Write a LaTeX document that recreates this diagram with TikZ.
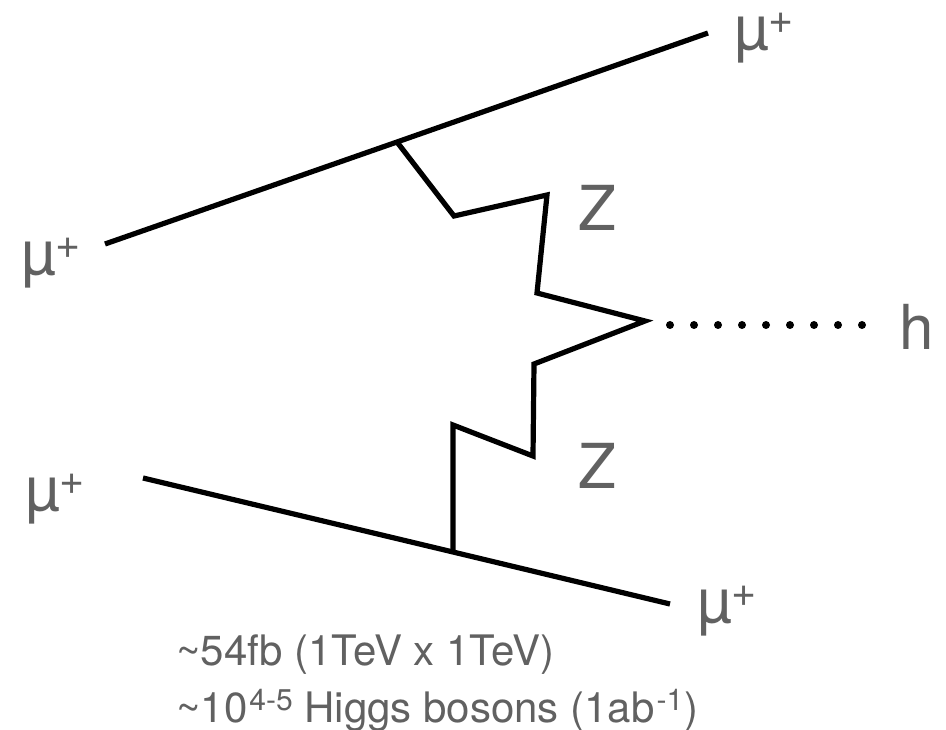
\documentclass[tikz,border=0pt]{standalone}
\usepackage{fontspec}
\setmainfont{TeX Gyre Heros}
\usetikzlibrary{positioning, calc}
\begin{document}
\begin{tikzpicture}[x=1pt,y=-1pt,
    line/.style={line width=5.2pt, black, line join=miter},
    higgs/.style={line width=8pt, black, line cap=round, dash pattern=on 0pt off 24pt},
    lbl/.style={text=black!62, font=\fontsize{62}{62}\selectfont, inner sep=0pt, anchor=base},
    note/.style={text=black!62, font=\fontsize{42}{42}\selectfont, inner sep=0pt, anchor=base west},
]
\useasboundingbox (0,0) rectangle (946,730);
\fill[white] (0,0) rectangle (946,730);
% Coordinates
\coordinate (upin) at (105,244);
\coordinate (upv) at (397,142);
\coordinate (upout) at (708,33);
\coordinate (lowin) at (143,478);
\coordinate (lowv) at (453,552);
\coordinate (lowout) at (670,604);
\coordinate (hv) at (645,321);
\coordinate (hstart) at (670,325);
\coordinate (hend) at (863,325);
% Muon lines
\draw[line] (upin) -- (upv) -- (upout);
\draw[line] (lowin) -- (lowv) -- (lowout);
% Z bosons
\draw[line] (upv) -- (454,216) -- (547,195) -- (537,293) -- (hv) -- (534,364) -- (533,456) -- (453,425) -- (lowv);
% Higgs
\draw[higgs] (hstart) -- (hend);
% Labels
\node[lbl] (mua) at (51,275) {µ\raisebox{16pt}{\fontsize{43}{43}\selectfont +}};
\node[lbl] (mub) at (55,510) {µ\raisebox{16pt}{\fontsize{43}{43}\selectfont +}};
\node[lbl] (muc) at (764,50) {µ\raisebox{16pt}{\fontsize{43}{43}\selectfont +}};
\node[lbl] (mud) at (727,622) {µ\raisebox{16pt}{\fontsize{43}{43}\selectfont +}};
\node[lbl] (za) at (597,231) {Z};
\node[lbl] (zb) at (597,488) {Z};
\node[lbl] (hl) at (917,349) {h};
\node[note] (xsec) at (176,665) {\char"007E 54fb (1TeV x 1TeV)};
\node[note] (nev) at (176,722) {\char"007E 10\kern2pt\raisebox{12pt}{\fontsize{30}{30}\selectfont 4-5} Higgs bosons (1ab\kern2pt\raisebox{12pt}{\fontsize{30}{30}\selectfont -1}\kern1pt)};
\end{tikzpicture}
\end{document}
